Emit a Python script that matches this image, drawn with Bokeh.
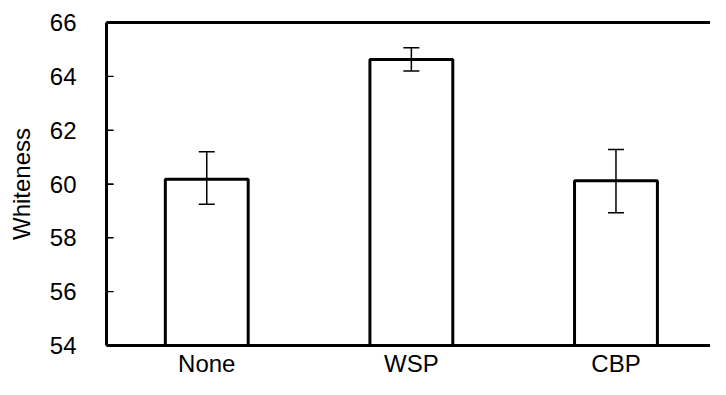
from bokeh.plotting import figure
from bokeh.models import Range1d, LinearAxis, FixedTicker, ColumnDataSource, Whisker, TeeHead
from bokeh.embed import file_html
from bokeh.resources import INLINE

categories = ["None", "WSP", "CBP"]
whiteness = [60.18, 64.63, 60.12]
err_upper = [61.2, 65.06, 61.28]
err_lower = [59.25, 64.2, 58.93]
y_ticks = [54, 56, 58, 60, 62, 64, 66]

xs = list(range(len(categories)))
src = ColumnDataSource(dict(x=xs, top=whiteness, upper=err_upper, lower=err_lower))

FONT = "Liberation Sans"
X_START, X_END = -0.49, 2.462

p = figure(width=710, height=379, output_backend="svg", toolbar_location=None,
           x_range=Range1d(X_START, X_END), y_range=Range1d(54, 66),
           min_border_left=106, min_border_right=0, min_border_top=22, min_border_bottom=30)
p.outline_line_color = None
p.xgrid.visible = False
p.ygrid.visible = False
p.background_fill_color = "white"
p.border_fill_color = "white"

p.vbar(x="x", top="top", bottom=54, width=0.405, source=src,
       fill_color="white", line_color="black", line_width=3)

w = Whisker(base="x", upper="upper", lower="lower", source=src,
            line_color="black", line_width=1.5, level="overlay",
            upper_head=TeeHead(size=16, line_color="black", line_width=1.5),
            lower_head=TeeHead(size=16, line_color="black", line_width=1.5))
p.add_layout(w)

# inward tick marks on the left frame edge
p.rect(x=X_START, y=y_ticks, width=14, width_units="screen",
       height=1.3, height_units="screen", fill_color="black", line_color=None)

# y axis
ya = p.yaxis[0]
ya.ticker = FixedTicker(ticks=y_ticks)
ya.minor_tick_line_color = None
ya.major_tick_in = 7
ya.major_tick_out = 0
ya.major_tick_line_width = 1.2
ya.major_tick_line_color = "black"
ya.axis_line_width = 3
ya.axis_line_color = "black"
ya.major_label_text_font = FONT
ya.major_label_text_font_size = "24px"
ya.major_label_text_color = "black"
ya.major_label_standoff = 30
ya.axis_label = "Whiteness"
ya.axis_label_text_font = FONT
ya.axis_label_text_font_size = "24px"
ya.axis_label_text_font_style = "normal"
ya.axis_label_text_color = "black"
ya.axis_label_standoff = 12

# x axis
xa = p.xaxis[0]
xa.ticker = FixedTicker(ticks=xs)
xa.major_label_overrides = {i: c for i, c in zip(xs, categories)}
xa.minor_tick_line_color = None
xa.major_tick_line_color = None
xa.major_tick_in = 0
xa.major_tick_out = 0
xa.axis_line_width = 3
xa.axis_line_color = "black"
xa.major_label_text_font = FONT
xa.major_label_text_font_size = "24px"
xa.major_label_text_color = "black"
xa.major_label_standoff = 4

# top frame line
top = LinearAxis(ticker=FixedTicker(ticks=[]), axis_line_width=3, axis_line_color="black",
                 major_tick_line_color=None, minor_tick_line_color=None,
                 major_tick_in=0, major_tick_out=0,
                 major_label_text_font_size="0px")
p.add_layout(top, "above")

open("out.html", "w").write(file_html(p, INLINE))
